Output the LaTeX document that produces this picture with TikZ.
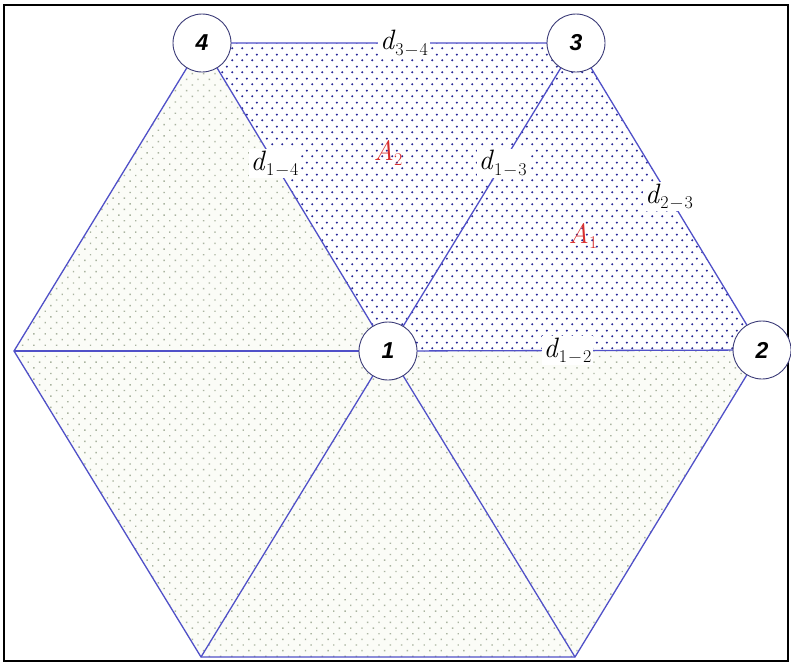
\documentclass[tikz,border=0pt]{standalone}
\usepackage{fontspec}
\newfontfamily\numfont{Liberation Sans}
\usetikzlibrary{patterns.meta}
\definecolor{edgeblue}{RGB}{80,80,200}
\definecolor{ringblue}{RGB}{60,60,120}
\definecolor{dotdark}{RGB}{40,40,150}
\definecolor{dotlight}{RGB}{170,180,160}
\definecolor{lightbg}{RGB}{251,252,247}
\definecolor{areared}{RGB}{215,45,45}
\newcommand{\sub}[1]{\raisebox{-0.45ex}{\fontsize{18}{19}\selectfont #1}}
\newcommand{\dist}[2]{\textit{d}\sub{#1\kern1.5pt−\kern1.5pt#2}}
\tikzdeclarepattern{
  name=stagdots,
  type=uncolored,
  bounding box={(0pt,0pt) and (10pt,12pt)},
  tile size={(10pt,12pt)},
  code={
    \fill (2.5pt,3pt) circle (1.2pt);
    \fill (7.5pt,9pt) circle (1.2pt);
  }
}

\begin{document}
\begin{tikzpicture}[x=1pt, y=-1pt, line width=1.2pt,
  edge/.style={draw=edgeblue, line width=1.3pt},
  vtx/.style={circle, draw=ringblue, line width=0.9pt, fill=white, minimum size=58pt, inner sep=0pt,
    font=\numfont\bfseries\itshape\fontsize{23}{24}\selectfont},
  dlabel/.style={fill=white, inner sep=2pt, font=\fontsize{28}{29}\selectfont},
  alabel/.style={text=areared, inner sep=1pt, font=\fontsize{28}{29}\selectfont}]
  \useasboundingbox (0,0) rectangle (791,662);
  \draw[line width=2pt] (3.5,4.5) rectangle (788,661);
  % corners of the hexagon
  \coordinate (p1) at (388,351);
  \coordinate (p2) at (762,350);
  \coordinate (p3) at (576,43);
  \coordinate (p4) at (202,43);
  \coordinate (pL) at (14,351);
  \coordinate (pBL) at (201,657);
  \coordinate (pBR) at (575,657);
  % shading
  \fill[lightbg] (p2) -- (p3) -- (p4) -- (pL) -- (pBL) -- (pBR) -- cycle;
  \fill[pattern={Dots[distance=8pt, radius=1pt, angle=45]}, pattern color=dotlight]
    (p2) -- (p3) -- (p4) -- (pL) -- (pBL) -- (pBR) -- cycle;
  \fill[white] (p1) -- (p2) -- (p3) -- (p4) -- cycle;
  \fill[pattern=stagdots, pattern color=dotdark]
    (p1) -- (p2) -- (p3) -- (p4) -- cycle;
  % edges
  \draw[edge] (p4) -- node[dlabel, pos=0.54] {\dist{3}{4}} (p3)
    -- node[dlabel, pos=0.5] {\dist{2}{3}} (p2) -- (pBR) -- (pBL) -- (pL) -- cycle;
  \foreach \v in {pL, pBL, pBR} { \draw[edge] (p1) -- (\v); }
  \draw[edge] (p1) -- node[dlabel, pos=0.48] {\dist{1}{2}} (p2);
  \draw[edge] (p1) -- node[dlabel, pos=0.61] {\dist{1}{3}} (p3);
  \draw[edge] (p1) -- node[dlabel, pos=0.61] {\dist{1}{4}} (p4);
  % stations
  \foreach \i in {1,...,4} { \node[vtx] (n\i) at (p\i) {\i}; }
  \node[alabel] (a2) at (388,153) {\textit{A}\sub{2}};
  \node[alabel] (a1) at (583,236) {\textit{A}\sub{1}};
\end{tikzpicture}
\end{document}
